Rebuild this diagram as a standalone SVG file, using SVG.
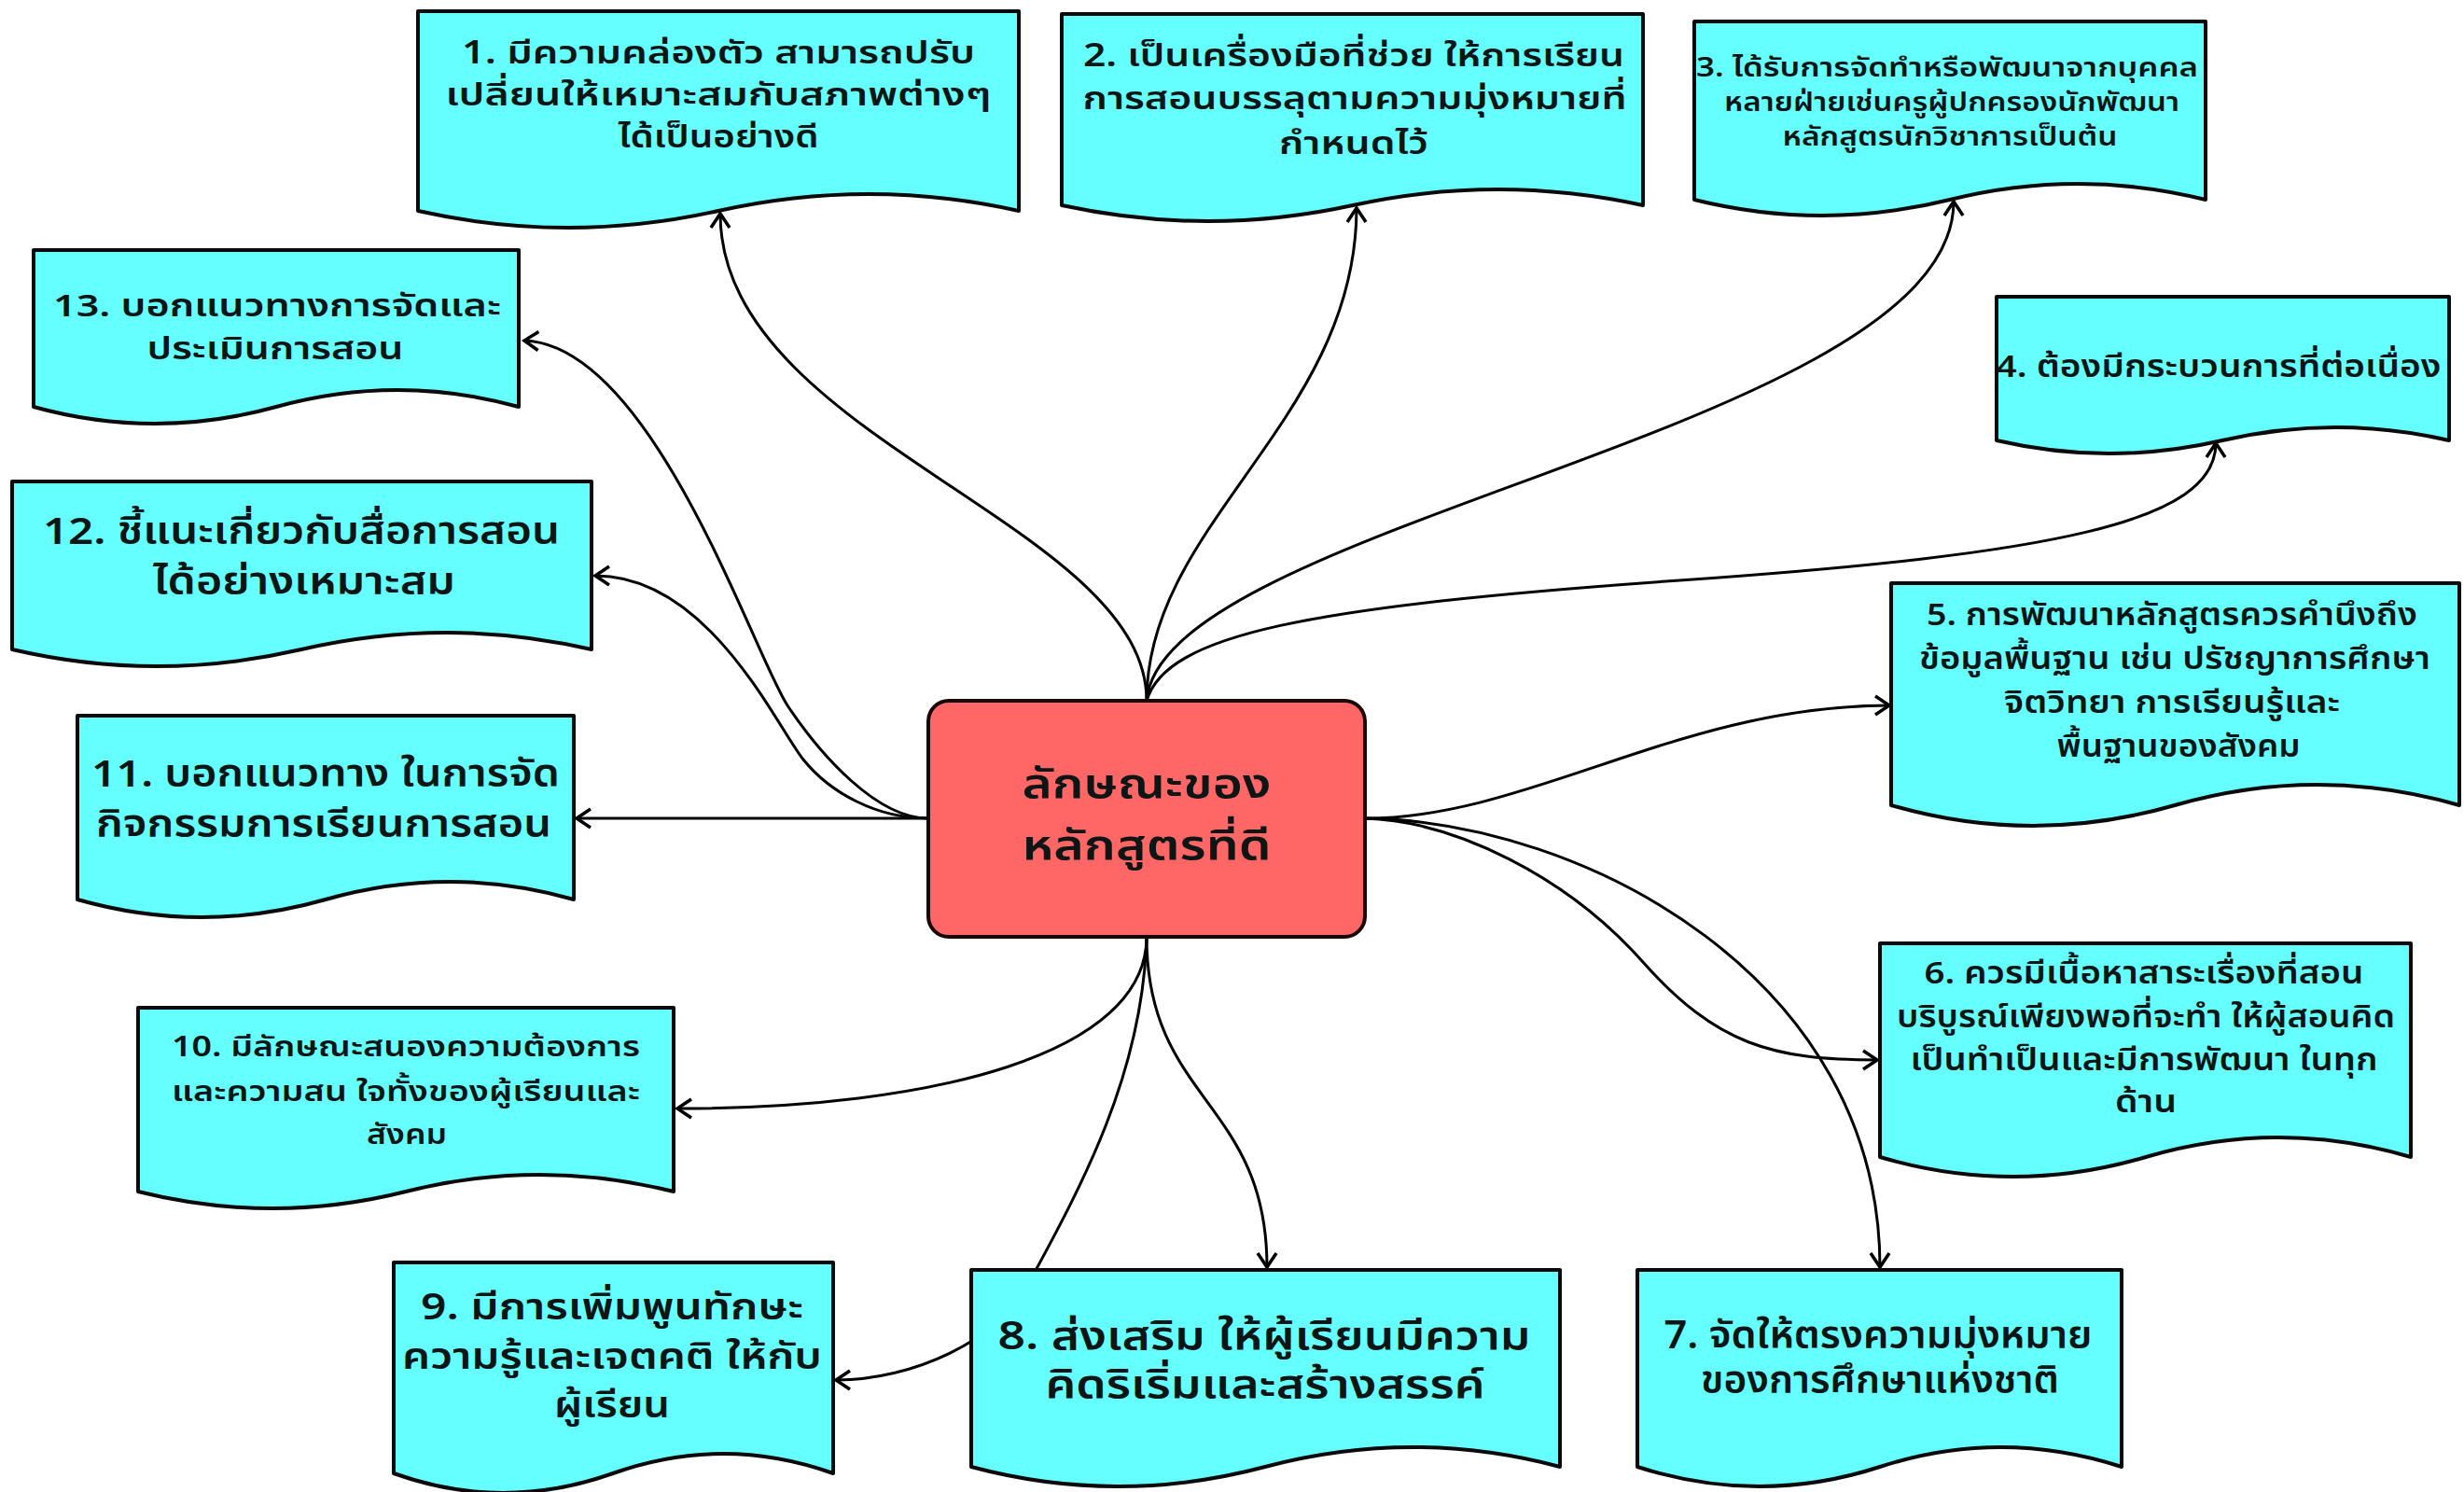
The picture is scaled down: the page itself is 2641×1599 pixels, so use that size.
<svg xmlns="http://www.w3.org/2000/svg" width="2641" height="1599" viewBox="0 0 2641 1599">
<defs>
<marker id="arr" markerWidth="20" markerHeight="24" viewBox="-17 -12 20 24" refX="0" refY="0" orient="auto" markerUnits="userSpaceOnUse" overflow="visible">
<path d="M-15,-10 L0,0 L-15,10" fill="none" stroke="#000" stroke-width="3.5" stroke-linejoin="miter"/>
</marker>
<style>
.doc{fill:#66FFFF;stroke:#0a0a0a;stroke-width:4;stroke-linejoin:round}
.ctr{fill:#FF6666;stroke:#1a0505;stroke-width:4}
.edge{fill:none;stroke:#000;stroke-width:3;marker-end:url(#arr)}
text{font-family:"Noto Sans Thai","Noto Sans",Tahoma,sans-serif;font-weight:600;fill:#0d1515;text-anchor:middle}
</style>
</defs>
<rect width="2641" height="1599" fill="#fff"/>
<g id="connectors">
<path class="edge" d="M1229,751 C1229,560 772,470 772,229"/>
<path class="edge" d="M1229,751 C1229,560 1454,450 1454,223"/>
<path class="edge" d="M1229,751 C1245,560 2094,460 2094,216"/>
<path class="edge" d="M1229,751 C1250,680 1400,650 1800,622 S2375,560 2375,475"/>
<path class="edge" d="M995,877 C940,877 880,810 844,756 S700,370 562,365"/>
<path class="edge" d="M995,877 C940,877 890,850 861,814 S760,617 638,617"/>
<path class="edge" d="M995,877 H618"/>
<path class="edge" d="M1229,1004 C1229,1130 1000,1188 726,1188"/>
<path class="edge" d="M1229,1004 C1225,1150 1160,1270 1100,1380 C1070,1435 980,1479 896,1479"/>
<path class="edge" d="M1229,1004 C1229,1180 1358,1180 1358,1358"/>
<path class="edge" d="M1463,877 C1640,877 1800,756 2025,756"/>
<path class="edge" d="M1463,877 C1560,880 1680,940 1760,1030 S1900,1136 2012,1136"/>
<path class="edge" d="M1463,877 C1700,880 2015,1050 2015,1358"/>
</g>
<g id="center">
<rect class="ctr" x="995" y="751" width="468" height="253" rx="22"/>
<text x="1229" y="855" font-size="45" textLength="267" lengthAdjust="spacingAndGlyphs">ลักษณะของ</text>
<text x="1229" y="921" font-size="45" textLength="267" lengthAdjust="spacingAndGlyphs">หลักสูตรที่ดี</text>
</g>
<g id="n1">
<path class="doc" d="M448,12 H1092 V226 Q931,190 770,226 T448,226 Z"/>
<text x="770" y="68" font-size="34" textLength="550" lengthAdjust="spacingAndGlyphs">1. มีความคล่องตัว สามารถปรับ</text>
<text x="770" y="113" font-size="34" textLength="585" lengthAdjust="spacingAndGlyphs">เปลี่ยนให้เหมาะสมกับสภาพต่างๆ</text>
<text x="770" y="158" font-size="34" textLength="215" lengthAdjust="spacingAndGlyphs">ได้เป็นอย่างดี</text>
</g>
<g id="n2">
<path class="doc" d="M1138,15 H1761 V220 Q1605,186 1450,220 T1138,220 Z"/>
<text x="1451" y="71" font-size="34" textLength="580" lengthAdjust="spacingAndGlyphs">2. เป็นเครื่องมือที่ช่วย ให้การเรียน</text>
<text x="1452" y="117" font-size="34" textLength="583" lengthAdjust="spacingAndGlyphs">การสอนบรรลุตามความมุ่งหมายที่</text>
<text x="1451" y="165" font-size="34" textLength="160" lengthAdjust="spacingAndGlyphs">กำหนดไว้</text>
</g>
<g id="n3">
<path class="doc" d="M1816,23 H2364 V214 Q2227,180 2090,214 T1816,214 Z"/>
<text x="2087" y="82" font-size="29" textLength="538" lengthAdjust="spacingAndGlyphs">3. ได้รับการจัดทำหรือพัฒนาจากบุคคล</text>
<text x="2092" y="119" font-size="29" textLength="488" lengthAdjust="spacingAndGlyphs">หลายฝ่ายเช่นครูผู้ปกครองนักพัฒนา</text>
<text x="2090" y="156" font-size="29" textLength="359" lengthAdjust="spacingAndGlyphs">หลักสูตรนักวิชาการเป็นต้น</text>
</g>
<g id="n4">
<path class="doc" d="M2140,318 H2625 V472 Q2504,444 2382,472 T2140,472 Z"/>
<text x="2378" y="404" font-size="33" textLength="477" lengthAdjust="spacingAndGlyphs">4. ต้องมีกระบวนการที่ต่อเนื่อง</text>
</g>
<g id="n5">
<path class="doc" d="M2027,625 H2636 V863 Q2484,819 2331,863 T2027,863 Z"/>
<text x="2328" y="670" font-size="33" textLength="526" lengthAdjust="spacingAndGlyphs">5. การพัฒนาหลักสูตรควรคำนึงถึง</text>
<text x="2331" y="717" font-size="33" textLength="548" lengthAdjust="spacingAndGlyphs">ข้อมูลพื้นฐาน เช่น ปรัชญาการศึกษา</text>
<text x="2328" y="764" font-size="33" textLength="360" lengthAdjust="spacingAndGlyphs">จิตวิทยา การเรียนรู้และ</text>
<text x="2335" y="811" font-size="33" textLength="261" lengthAdjust="spacingAndGlyphs">พื้นฐานของสังคม</text>
</g>
<g id="n6">
<path class="doc" d="M2015,1011 H2584 V1240 Q2442,1198 2300,1240 T2015,1240 Z"/>
<text x="2298" y="1054" font-size="33" textLength="471" lengthAdjust="spacingAndGlyphs">6. ควรมีเนื้อหาสาระเรื่องที่สอน</text>
<text x="2300" y="1101" font-size="33" textLength="534" lengthAdjust="spacingAndGlyphs">บริบูรณ์เพียงพอที่จะทำ ให้ผู้สอนคิด</text>
<text x="2298" y="1147" font-size="33" textLength="501" lengthAdjust="spacingAndGlyphs">เป็นทำเป็นและมีการพัฒนา ในทุก</text>
<text x="2300" y="1192" font-size="33" textLength="66" lengthAdjust="spacingAndGlyphs">ด้าน</text>
</g>
<g id="n7">
<path class="doc" d="M1755,1361 H2274 V1572 Q2144,1530 2015,1572 T1755,1572 Z"/>
<text x="2013" y="1445" font-size="41" textLength="459" lengthAdjust="spacingAndGlyphs">7. จัดให้ตรงความมุ่งหมาย</text>
<text x="2015" y="1493" font-size="41" textLength="384" lengthAdjust="spacingAndGlyphs">ของการศึกษาแห่งชาติ</text>
</g>
<g id="n8">
<path class="doc" d="M1041,1361 H1672 V1572 Q1514,1530 1356,1572 T1041,1572 Z"/>
<text x="1355" y="1446" font-size="42" textLength="571" lengthAdjust="spacingAndGlyphs">8. ส่งเสริม ให้ผู้เรียนมีความ</text>
<text x="1356" y="1498" font-size="42" textLength="471" lengthAdjust="spacingAndGlyphs">คิดริเริ่มและสร้างสรรค์</text>
</g>
<g id="n9">
<path class="doc" d="M422,1353 H893 V1579 Q775,1537 657,1579 T422,1579 Z"/>
<text x="656" y="1414" font-size="39" textLength="410" lengthAdjust="spacingAndGlyphs">9. มีการเพิ่มพูนทักษะ</text>
<text x="656" y="1467" font-size="39" textLength="450" lengthAdjust="spacingAndGlyphs">ความรู้และเจตคติ ให้กับ</text>
<text x="656" y="1519" font-size="39" textLength="124" lengthAdjust="spacingAndGlyphs">ผู้เรียน</text>
</g>
<g id="n10">
<path class="doc" d="M148,1080 H722 V1277 Q578,1241 435,1277 T148,1277 Z"/>
<text x="435" y="1132" font-size="31" textLength="502" lengthAdjust="spacingAndGlyphs">10. มีลักษณะสนองความต้องการ</text>
<text x="435" y="1180" font-size="31" textLength="502" lengthAdjust="spacingAndGlyphs">และความสน ใจทั้งของผู้เรียนและ</text>
<text x="436" y="1226" font-size="31" textLength="86" lengthAdjust="spacingAndGlyphs">สังคม</text>
</g>
<g id="n11">
<path class="doc" d="M83,767 H615 V964 Q482,926 349,964 T83,964 Z"/>
<text x="349" y="843" font-size="40" textLength="502" lengthAdjust="spacingAndGlyphs">11. บอกแนวทาง ในการจัด</text>
<text x="347" y="897" font-size="40" textLength="488" lengthAdjust="spacingAndGlyphs">กิจกรรมการเรียนการสอน</text>
</g>
<g id="n12">
<path class="doc" d="M13,516 H634 V696 Q479,660 323,696 T13,696 Z"/>
<text x="323" y="583" font-size="40" textLength="554" lengthAdjust="spacingAndGlyphs">12. ชี้แนะเกี่ยวกับสื่อการสอน</text>
<text x="326" y="637" font-size="40" textLength="324" lengthAdjust="spacingAndGlyphs">ได้อย่างเหมาะสม</text>
</g>
<g id="n13">
<path class="doc" d="M36,268 H556 V436 Q426,400 296,436 T36,436 Z"/>
<text x="297" y="339" font-size="33" textLength="480" lengthAdjust="spacingAndGlyphs">13. บอกแนวทางการจัดและ</text>
<text x="295" y="385" font-size="33" textLength="275" lengthAdjust="spacingAndGlyphs">ประเมินการสอน</text>
</g>
</svg>
